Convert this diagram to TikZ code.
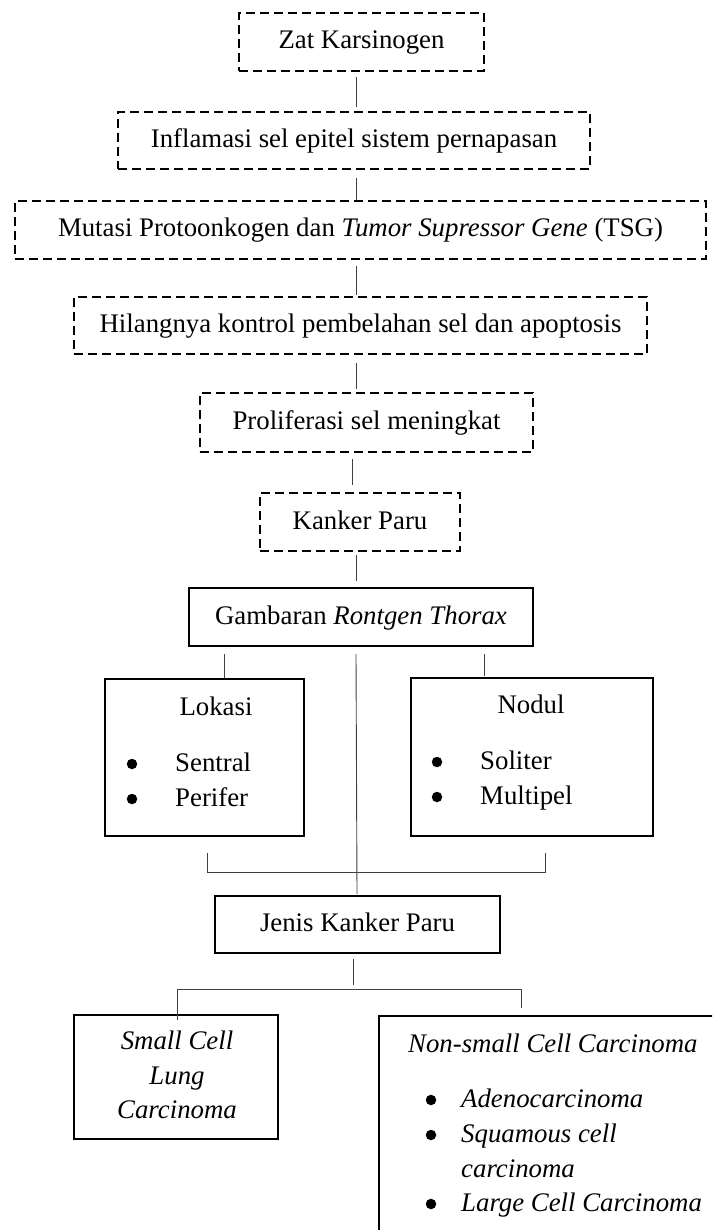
\documentclass[tikz,border=0pt]{standalone}
\usepackage{fontspec}
\setmainfont{Liberation Serif}
\begin{document}
\begin{tikzpicture}[x=1pt,y=-1pt,
  every node/.style={font=\fontsize{26.8}{35}\selectfont},
  dbox/.style={draw, line width=2pt, dash pattern=on 9pt off 5pt, inner sep=0pt, text height=19pt, text depth=5pt},
  sbox/.style={draw, line width=2pt, inner sep=0pt, text height=19pt, text depth=5pt},
  ebox/.style={draw, line width=2pt, inner sep=0pt},
  txt/.style={inner sep=0pt},
  bul/.style={circle, fill=black, inner sep=0pt, minimum size=10.5pt},
  conn/.style={line width=0.9pt, black!75}]
\useasboundingbox (0,0) rectangle (712,1230);
\clip (0,0) rectangle (712,1230);
% dashed chain
\node[dbox, minimum width=245pt, minimum height=58pt] (zat) at (361.5,42) {Zat Karsinogen};
\node[dbox, minimum width=472pt, minimum height=57pt] (infl) at (354,140.5) {Inflamasi sel epitel sistem pernapasan};
\node[dbox, minimum width=691pt, minimum height=58pt] (mut) at (360.5,230) {Mutasi Protoonkogen dan \textit{Tumor Supressor Gene} (TSG)};
\node[dbox, minimum width=573pt, minimum height=57pt] (hil) at (360.5,325.5) {Hilangnya kontrol pembelahan sel dan apoptosis};
\node[dbox, minimum width=333pt, minimum height=59pt] (pro) at (366.5,422.5) {Proliferasi sel meningkat};
\node[dbox, minimum width=200pt, minimum height=58pt] (kan) at (360,522) {Kanker Paru};
% solid boxes
\node[sbox, minimum width=344pt, minimum height=58pt] (gam) at (361,617) {Gambaran \textit{Rontgen Thorax}};
\node[ebox, minimum width=199pt, minimum height=157pt] (lok) at (204.5,757.5) {};
\node[ebox, minimum width=242pt, minimum height=158pt] (nod) at (532,757) {};
\node[sbox, minimum width=285pt, minimum height=57pt] (jen) at (357.5,924.5) {Jenis Kanker Paru};
\node[ebox, minimum width=204pt, minimum height=124pt] (scl) at (176,1077) {};
\node[ebox, minimum width=361pt, minimum height=244pt] (nsc) at (559.5,1138) {};
% texts in Lokasi
\node[txt, anchor=base] (lokT) at (216,715) {Lokasi};
\node[bul] (lokB1) at (132,764) {};
\node[txt, anchor=base west] (lok1) at (175,771) {Sentral};
\node[bul] (lokB2) at (132,799) {};
\node[txt, anchor=base west] (lok2) at (175,806) {Perifer};
% texts in Nodul
\node[txt, anchor=base] (nodT) at (531,713) {Nodul};
\node[bul] (nodB1) at (437,762) {};
\node[txt, anchor=base west] (nod1) at (480,769) {Soliter};
\node[bul] (nodB2) at (437,797) {};
\node[txt, anchor=base west] (nod2) at (480,804) {Multipel};
% small cell
\node[txt, anchor=base] (scl1) at (177,1049) {\textit{Small Cell}};
\node[txt, anchor=base] (scl2) at (177,1084) {\textit{Lung}};
\node[txt, anchor=base] (scl3) at (177,1118) {\textit{Carcinoma}};
% non-small cell
\node[txt, anchor=base west] (nscT) at (408,1052) {\textit{Non-small Cell Carcinoma}};
\node[bul] (nscB1) at (431,1100) {};
\node[txt, anchor=base west] (nsc1) at (461,1107) {\textit{Adenocarcinoma}};
\node[bul] (nscB2) at (431,1135) {};
\node[txt, anchor=base west] (nsc2) at (461,1142) {\textit{Squamous cell}};
\node[txt, anchor=base west] (nsc3) at (461,1177) {\textit{carcinoma}};
\node[bul] (nscB3) at (431,1204) {};
\node[txt, anchor=base west] (nsc4) at (461,1211) {\textit{Large Cell Carcinoma}};
% connector columns
\coordinate (cA) at (356,0);
\coordinate (cB) at (352.5,0);
\coordinate (cL) at (224,0);
\coordinate (cR) at (484,0);
\coordinate (cJ) at (357,0);
\coordinate (cD) at (353,0);
\coordinate (bL) at (207,872);
\coordinate (bR) at (545,872);
\coordinate (hL) at (177,989);
\coordinate (hR) at (521,989);
% connectors
\draw[conn] ([yshift=-5pt]zat.south -| cA) -- ([yshift=4pt]infl.north -| cA);
\draw[conn] ([yshift=-8pt]infl.south -| cA) -- (mut.north -| cA);
\draw[conn] ([yshift=-6pt]mut.south -| cA) -- ([yshift=1pt]hil.north -| cA);
\draw[conn] ([yshift=-8pt]hil.south -| cA) -- ([yshift=3pt]pro.north -| cA);
\draw[conn] ([yshift=-6pt]pro.south -| cB) -- ([yshift=7pt]kan.north -| cB);
\draw[conn] ([yshift=-3pt]kan.south -| cA) -- ([yshift=6pt]gam.north -| cA);
\draw[conn] ([yshift=-7pt]gam.south -| cL) -- (lok.north -| cL);
\draw[conn] ([yshift=-7pt]gam.south -| cR) -- ([yshift=1pt]nod.north -| cR);
\draw[conn] ([yshift=-7pt]gam.south -| cA) -- ([yshift=1pt]jen.north -| cJ);
\draw[conn] ([yshift=-16pt]lok.south -| bL) -- (bL) -- (bR) -- ([yshift=-16pt]nod.south -| bR);
\draw[conn] ([yshift=-5pt]jen.south -| cD) -- ([yshift=4pt]hL -| cD);
\draw[conn] ([yshift=-6pt]scl.north -| hL) -- (hL) -- (hR) -- ([yshift=7pt]nsc.north -| hR);
\end{tikzpicture}
\end{document}
